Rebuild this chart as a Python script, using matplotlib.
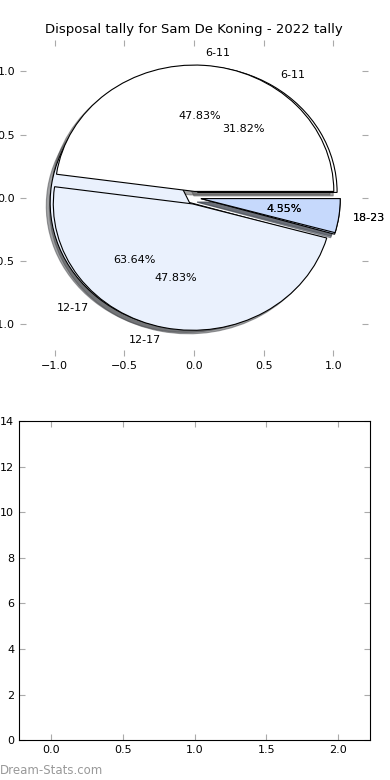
import numpy as np
import matplotlib.pyplot as plt

# disposal bins and games per bin
bins = ['6-11', '12-17', '18-23']
games_first = [7, 14, 1]     # 31.82 / 63.64 / 4.55
games_second = [11, 11, 1]   # 47.83 / 47.83 / 4.35
pie_colors = ['#ffffff', '#eaf1fd', '#c6d9fc']
explode = [0.05, 0.05, 0.05]

bar_xticks = [0.0, 0.5, 1.0, 1.5, 2.0]
bar_yticks = [0, 2, 4, 6, 8, 10, 12, 14]

plt.rcParams['font.size'] = 8

fig = plt.figure(figsize=(3.9, 7.8), dpi=100)

# top: the two pies drawn on one axes
ax1 = fig.add_axes([0.051, 0.544, 0.893, 0.405])
for games in (games_first, games_second):
    ax1.pie(games, labels=bins, colors=pie_colors, explode=explode,
            autopct='%1.2f%%', shadow=True, startangle=0,
            wedgeprops=dict(edgecolor='black', linewidth=0.8),
            textprops=dict(fontsize=8))
ax1.set_aspect('auto')
ax1.set_xlim(-1.25, 1.25)
ax1.set_ylim(-1.25, 1.25)
ax1.set_frame_on(False)
ax1.set_xticks([-1.0, -0.5, 0.0, 0.5, 1.0])
ax1.set_yticks([-1.0, -0.5, 0.0, 0.5, 1.0])
ax1.tick_params(direction='in', length=4, color='#aaaaaa',
                top=True, right=True, labelsize=8)
ax1.set_title('Disposal tally for Sam De Koning - 2022 tally', fontsize=9.5, pad=5)

# bottom: empty axes
ax2 = fig.add_axes([0.049, 0.051, 0.9, 0.409])
ax2.set_xlim(-0.225, 2.225)
ax2.set_ylim(0, 14)
ax2.set_xticks(bar_xticks)
ax2.tick_params(direction='in', length=4, color='#aaaaaa',
                top=True, right=True, labelsize=8)
ax2.set_yticks(bar_yticks)

# watermark
fig.text(0.0, 0.008, 'Dream-Stats.com', color='#999999', fontsize=8.5)

plt.savefig('out.png', dpi=100)
